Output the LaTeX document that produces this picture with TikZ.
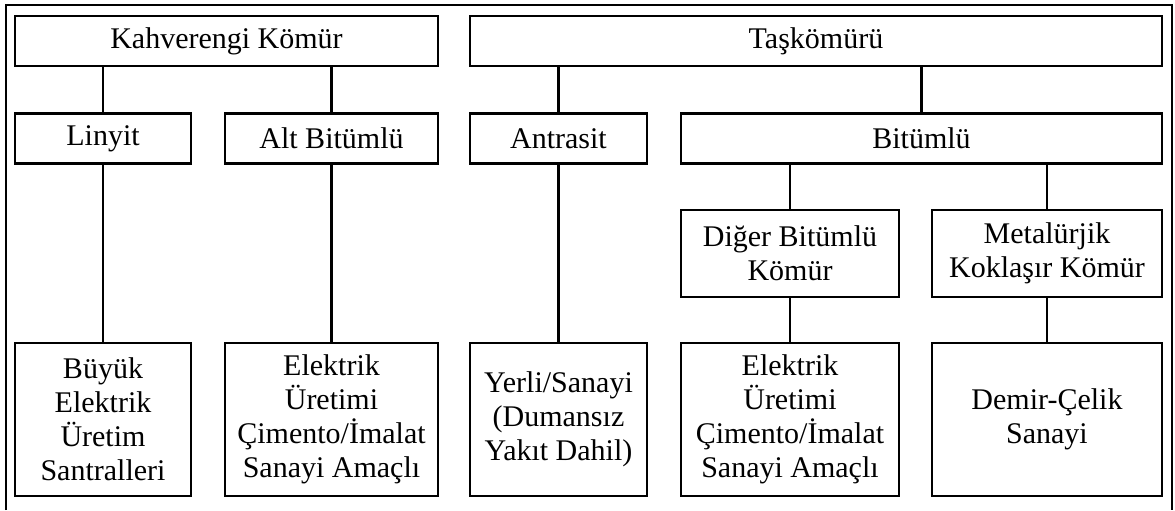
\documentclass[tikz,border=0pt]{standalone}
\usepackage{fontspec}
\setmainfont{Liberation Serif}

\begin{document}
\begin{tikzpicture}[x=0.5pt, y=-0.5pt, line width=1.2pt,
    kutu/.style={draw, inner sep=0pt, align=center,
        font=\fontsize{15}{17}\selectfont},
    ust/.style={kutu, minimum height=25pt},
    orta/.style={kutu, minimum height=43.5pt},
    alt/.style={kutu, minimum height=76.5pt}]
    \useasboundingbox (0,0) rectangle (1175,510);

    \def\link#1#2{%
        \draw (#1.south -| #2.north) -- (#2.north);
    }

    % outer frame, open at the bottom
    \draw (6,510) -- (6,5) -- (1172,5) -- (1172,510);

    % top level
    \node[ust, minimum width=211.5pt] (kahve) at (226.5,41) {Kahverengi Kömür};
    \node[ust, minimum width=346pt] (tas) at (816,41) {Taşkömürü};

    % second level
    \node[ust, minimum width=88pt] (linyit) at (103,138.5) {Linyit};
    \node[ust, minimum width=106.5pt] (altbit) at (331.5,138.5) {Alt Bitümlü};
    \node[ust, minimum width=88.5pt] (antrasit) at (558.5,138.5) {Antrasit};
    \node[ust, minimum width=240.5pt] (bitumlu) at (921.5,138.5) {Bitümlü};

    % bitumlu branches
    \node[orta, minimum width=109pt] (diger) at (790,253.5) {Diğer Bitümlü\\Kömür};
    \node[orta, minimum width=115pt] (metal) at (1047,253.5) {Metalürjik\\Koklaşır Kömür};

    % usage boxes
    \node[alt, minimum width=88pt] (buyuk) at (103,419.5) {Büyük\\Elektrik\\Üretim\\Santralleri};
    \node[alt, minimum width=106.5pt] (elekA) at (331.5,419.5) {Elektrik\\Üretimi\\Çimento/İmalat\\Sanayi Amaçlı};
    \node[alt, minimum width=88.5pt] (yerli) at (558.5,419.5) {Yerli/Sanayi\\(Dumansız\\Yakıt Dahil)};
    \node[alt, minimum width=109pt] (elekB) at (790,419.5) {Elektrik\\Üretimi\\Çimento/İmalat\\Sanayi Amaçlı};
    \node[alt, minimum width=115pt] (demir) at (1047,419.5) {Demir-Çelik\\Sanayi};

    \link{kahve}{linyit}
    \link{kahve}{altbit}
    \link{tas}{antrasit}
    \link{tas}{bitumlu}
    \link{bitumlu}{diger}
    \link{bitumlu}{metal}
    \link{linyit}{buyuk}
    \link{altbit}{elekA}
    \link{antrasit}{yerli}
    \link{diger}{elekB}
    \link{metal}{demir}

\end{tikzpicture}
\end{document}
